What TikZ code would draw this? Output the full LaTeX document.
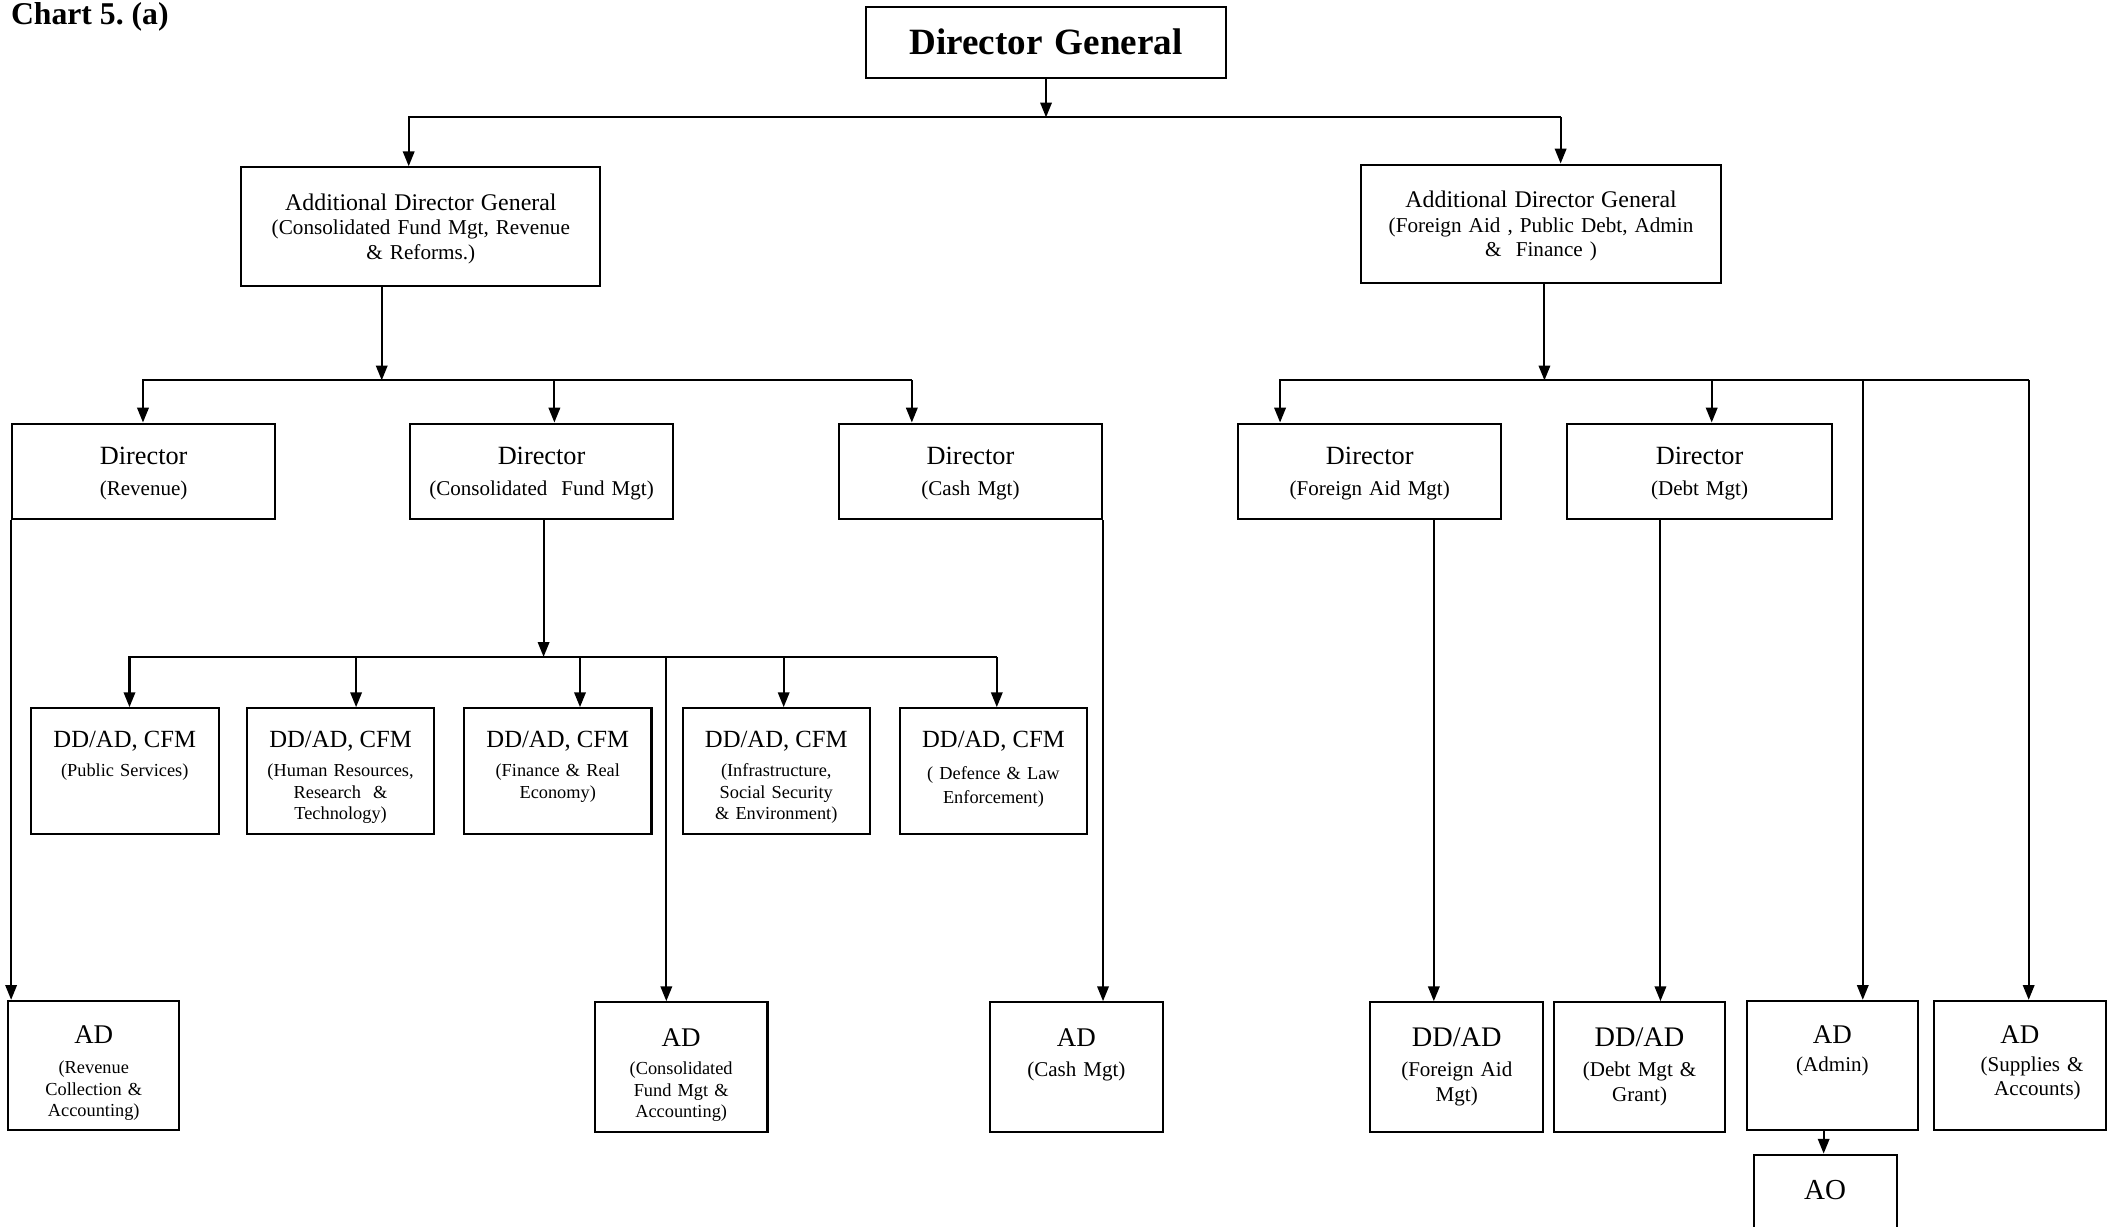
\documentclass[tikz,border=0pt]{standalone}
\usepackage{fontspec}
\setmainfont{Liberation Serif}
\usetikzlibrary{arrows.meta}

\newcommand{\headline}[2]{{\fontsize{#1}{#1}\selectfont #2}}

\tikzset{
  unit/.style n args={3}{draw, line width=1.5pt, inner xsep=4pt, inner ysep=0pt,
    align=center, text width=#1pt, text height=#2pt, text depth=#3pt},
  link/.style={line width=1.5pt},
  arr/.style={line width=1.5pt, -{Triangle[length=11pt,width=8.5pt]}},
  small/.style={font=\fontsize{13.6}{16}\selectfont},
  mid/.style={font=\fontsize{15.6}{18}\selectfont},
}

\begin{document}
\begin{tikzpicture}[x=1pt, y=-1pt]
\useasboundingbox (0,0) rectangle (1568,909);

%title
\node[anchor=base west, inner sep=0pt, font=\bfseries\fontsize{23.5}{23.5}\selectfont] (title) at (8,18.5) {Chart 5.\ (a)};

%top level
\node[unit={259}{35.3}{17.7}, font=\bfseries\fontsize{27.5}{27.5}\selectfont] (dg) at (775.5,31.5) {Director General};

%additional director generals
\node[unit={258}{31.8}{56.2}, font=\fontsize{15.7}{18}\selectfont] (adgl) at (312,168)
  {\headline{17.7}{Additional Director General}\\[0.4pt] (Consolidated Fund Mgt, Revenue\\ \& Reforms.)};
\node[unit={259}{31.8}{56.2}, font=\fontsize{15.7}{18}\selectfont] (adgr) at (1142.5,166)
  {\headline{17.7}{Additional Director General}\\[0.4pt] (Foreign Aid , Public Debt, Admin\\ \& \ Finance )};

%directors
\node[unit={187}{30.2}{40.8}, mid] (drev) at (106.5,349.5) {\headline{19.5}{Director}\\[4.8pt] (Revenue)};
\node[unit={187}{30.2}{40.8}, mid] (dcfm) at (401.5,349.5) {\headline{19.5}{Director}\\[4.8pt] (Consolidated \ Fund Mgt)};
\node[unit={187}{30.2}{40.8}, mid] (dcash) at (719.5,349.5) {\headline{19.5}{Director}\\[4.8pt] (Cash Mgt)};
\node[unit={187}{30.2}{40.8}, mid] (dfa) at (1015.5,349.5) {\headline{19.5}{Director}\\[4.8pt] (Foreign Aid Mgt)};
\node[unit={188}{30.2}{40.8}, mid] (ddebt) at (1260,349.5) {\headline{19.5}{Director}\\[4.8pt] (Debt Mgt)};

%DD/AD CFM row
\node[unit={131}{29.2}{63.8}, small] (cfa) at (92.5,571.5) {\headline{18.3}{DD/AD, CFM}\\[5.6pt] (Public Services)};
\node[unit={131}{29.2}{63.8}, small] (cfb) at (252.5,571.5) {\headline{18.3}{DD/AD, CFM}\\[5.6pt] (Human Resources,\\ Research \ \&\\ Technology)};
\node[unit={131}{29.2}{63.8}, small] (cfc) at (413.5,571.5) {\headline{18.3}{DD/AD, CFM}\\[5.6pt] (Finance \& Real\\ Economy)};
\node[unit={131}{29.2}{63.8}, small] (cfd) at (575.5,571.5) {\headline{18.3}{DD/AD, CFM}\\[5.6pt] (Infrastructure,\\ Social Security\\ \& Environment)};
\node[unit={131}{29.2}{63.8}, small] (cfe) at (736.5,571.5) {\headline{18.3}{DD/AD, CFM}\\[7.6pt] ( Defence \& Law\\[2pt] Enforcement)};

%bottom row
\node[unit={119}{31.7}{64.3}, small] (arev) at (69.5,790) {\headline{20}{AD}\\[6.1pt] (Revenue\\ Collection \&\\ Accounting)};
\node[unit={120}{32.7}{63.3}, small] (acf) at (505,791) {\headline{20}{AD}\\[5.1pt] (Consolidated\\ Fund Mgt \&\\ Accounting)};
\node[unit={120}{32.7}{63.3}, mid] (acash) at (798,791) {\headline{20}{AD}\\[4.7pt] (Cash Mgt)};
\node[unit={120}{33}{63}, mid] (dfaa) at (1080,791) {\headline{21}{DD/AD}\\[4.4pt] (Foreign Aid\\ Mgt)};
\node[unit={119}{33}{63}, mid] (ddebta) at (1215.5,791) {\headline{21}{DD/AD}\\[4.4pt] (Debt Mgt \&\\ Grant)};
\node[unit={119}{31.7}{64.3}, mid] (aadmin) at (1358.5,790) {\headline{20}{AD}\\[2.7pt] (Admin)};
\node[unit={119}{31.7}{64.3}, mid] (asup) at (1497.5,790) {\headline{20}{AD}\\[2.7pt] \hspace*{18pt}(Supplies \&\\ \hspace*{26pt}Accounts)};
\node[unit={98}{33.5}{22.5}, font=\fontsize{21.5}{21.5}\selectfont] (ao) at (1353,884) {AO};

%bus from director general
\coordinate (k1l) at (303,87);
\coordinate (k1r) at (1157,87);
\draw[arr] (dg.south) -- (dg.south |- k1l);
\draw[arr] (k1r) -| (k1l |- adgl.north);
\draw[arr] (k1r) -- (k1r |- adgr.north);

%bus under left ADG
\coordinate (k2) at (283,282);
\coordinate (k2a) at (106,282);
\coordinate (k2b) at (411,282);
\coordinate (k2c) at (676,282);
\draw[arr] (k2 |- adgl.south) -- (k2);
\draw[arr] (k2c) -| (k2a |- drev.north);
\draw[arr] (k2b) -- (k2b |- dcfm.north);
\draw[arr] (k2c) -- (k2c |- dcash.north);

%bus under right ADG
\coordinate (k3) at (1145,282);
\coordinate (k3a) at (949,282);
\coordinate (k3b) at (1269,282);
\coordinate (k3c) at (1381,282);
\coordinate (k3d) at (1504,282);
\draw[arr] (k3 |- adgr.south) -- (k3);
\draw[arr] (k3d) -| (k3a |- dfa.north);
\draw[arr] (k3b) -- (k3b |- ddebt.north);
\draw[arr] (k3c) -- (k3c |- aadmin.north);
\draw[arr] (k3d) -- (k3d |- asup.north);

%bus under consolidated fund director
\coordinate (k4) at (403,487);
\coordinate (k4a) at (96,487);
\coordinate (k4b) at (264,487);
\coordinate (k4c) at (430,487);
\coordinate (k4d) at (494,487);
\coordinate (k4e) at (581,487);
\coordinate (k4f) at (739,487);
\draw[arr] (k4 |- dcfm.south) -- (k4);
\draw[arr] (k4f) -| (k4a |- cfa.north);
\draw[arr] (k4b) -- (k4b |- cfb.north);
\draw[arr] (k4c) -- (k4c |- cfc.north);
\draw[arr] (k4e) -- (k4e |- cfd.north);
\draw[arr] (k4f) -- (k4f |- cfe.north);
\draw[arr] (k4d) -- (k4d |- acf.north);

%direct lines down
\draw[arr] (drev.south west) -- (drev.south west |- arev.north);
\draw[arr] (dcash.south east) -- (dcash.south east |- acash.north);
\draw[arr] ([xshift=47.5pt]dfa.south) -- ([xshift=-17pt]dfaa.north);
\draw[arr] ([xshift=-29pt]ddebt.south) -- ([xshift=15.5pt]ddebta.north);
\draw[arr] ([xshift=-6.5pt]aadmin.south) -- ([xshift=-1pt]ao.north);

\end{tikzpicture}
\end{document}
